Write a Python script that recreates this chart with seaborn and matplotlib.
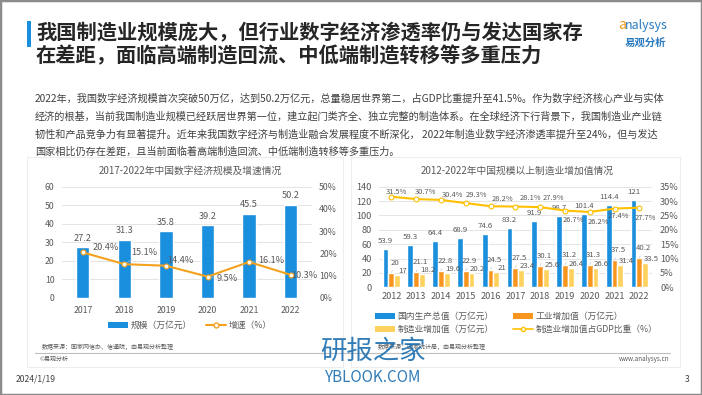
import numpy as np
import pandas as pd
import matplotlib
matplotlib.use('Agg')
import matplotlib.pyplot as plt
import seaborn as sns
from matplotlib.patches import Patch, Rectangle
from matplotlib.lines import Line2D
from matplotlib.ticker import FuncFormatter

sns.set_theme(style='white')
plt.rcParams['font.family'] = ['Noto Sans CJK SC', 'DejaVu Sans']

# ---------------- data ----------------
years_a = ['2017', '2018', '2019', '2020', '2021', '2022']
scale_a = [27.2, 31.3, 35.8, 39.2, 45.5, 50.2]
growth_a = [20.4, 15.1, 14.4, 9.5, 16.1, 10.3]

years_b = ['2012', '2013', '2014', '2015', '2016', '2017', '2018', '2019', '2020', '2021', '2022']
gdp_b = [53.9, 59.3, 64.4, 68.9, 74.6, 83.2, 91.9, 98.7, 101.4, 114.4, 121]
ind_b = [20, 21.1, 22.8, 22.9, 24.5, 27.5, 30.1, 31.2, 31.3, 37.5, 40.2]
mfg_b = [17, 18.2, 19.6, 20.2, 21, 23.4, 25.6, 26.4, 26.6, 31.4, 33.5]
ratio_b = [31.5, 30.7, 30.4, 29.3, 28.2, 28.1, 27.9, 26.7, 26.2, 27.4, 27.7]

series_b = ['国内生产总值（万亿元）', '工业增加值（万亿元）', '制造业增加值（万亿元）']
line_name_b = '制造业增加值占GDP比重（%）'
legend_a = ['规模（万亿元）', '增速（%）']

title_lines = ['我国制造业规模庞大，但行业数字经济渗透率仍与发达国家存',
               '在差距，面临高端制造回流、中低端制造转移等多重压力']
para_lines = [
    '2022年，我国数字经济规模首次突破50万亿，达到50.2万亿元，总量稳居世界第二，占GDP比重提升至41.5%。作为数字经济核心产业与实体',
    '经济的根基，当前我国制造业规模已经跃居世界第一位，建立起门类齐全、独立完整的制造体系。在全球经济下行背景下，我国制造业产业链',
    '韧性和产品竞争力有显著提升。近年来我国数字经济与制造业融合发展程度不断深化， 2022年制造业数字经济渗透率提升至24%，但与发达',
    '国家相比仍存在差距，且当前面临着高端制造回流、中低端制造转移等多重压力。',
]
chart_title_a = '2017-2022年中国数字经济规模及增速情况'
chart_title_b = '2012-2022年中国规模以上制造业增加值情况'
source_a = '数据来源：国家网信办、信通院，由易观分析整理'
source_b = '数据来源：国家统计局，由易观分析整理'

# ---------------- style ----------------
BLUE = '#1A8FDD'
ORANGE = '#F7951E'
YELLOW = '#FFD25E'
LINE_A = '#F4A11D'
LINE_B = '#FFC000'
TXT = '#595959'
W, H = 702, 395

def fx(x):
    return x / W

def fy(y):
    return 1 - y / H

PX = 0.72  # points per pixel

fig = plt.figure(figsize=(7.02, 3.95), dpi=100)
fig.patch.set_facecolor('white')

# cards
for (x0, x1) in [(27, 343), (351, 680)]:
    fig.add_artist(Rectangle((fx(x0), fy(367)), fx(x1) - fx(x0), fy(157) - fy(367),
                             transform=fig.transFigure, facecolor='white',
                             edgecolor='#EDEDED', lw=0.8, zorder=-1))
# outer border
fig.add_artist(Rectangle((0, 0), 1, 1, transform=fig.transFigure, facecolor='none',
                         edgecolor='#8C8C8C', lw=2.5, zorder=20))

# title
fig.add_artist(Rectangle((fx(27), fy(47)), fx(3.5), fy(21) - fy(47),
                         transform=fig.transFigure, facecolor='#1A8FDD', edgecolor='none'))
for i, t in enumerate(title_lines):
    fig.text(fx(36), fy(33 + 23 * i), t, fontsize=14.6, fontweight='bold',
             color='#262626', va='center', ha='left')
# logo
fig.text(fx(618), fy(25), 'a', fontsize=10, color='#F39A1E', style='italic',
         ha='left', va='center')
fig.text(fx(625), fy(25), 'nalysys', fontsize=9, color='#2A7AC0', style='italic',
         ha='left', va='center')
fig.text(fx(645), fy(43), '易观分析', fontsize=7.5, color='#2A7AC0', fontweight='bold',
         ha='center', va='center')

# paragraph
for i, t in enumerate(para_lines):
    fig.text(fx(35), fy(99 + 17.6 * i), t, fontsize=7.32, color='#404040',
             va='center', ha='left')

# ---------------- left chart ----------------
axA = fig.add_axes([fx(62), fy(297.7), fx(311.5) - fx(62), fy(186.7) - fy(297.7)])
axA.patch.set_visible(False)
sns.barplot(x=years_a, y=scale_a, color=BLUE, width=0.32, saturation=1, ax=axA, zorder=2)
axA.set_ylim(0, 60)
axA.set_yticks(range(0, 61, 10))
axA.set_xlim(-0.5, 5.5)
axA.yaxis.grid(True, color='#E4E4E4', lw=0.7, zorder=0)
axA.set_axisbelow(True)
for s in axA.spines.values():
    s.set_visible(False)
axA.tick_params(axis='both', length=0, labelsize=6.3, colors=TXT)
axA.tick_params(axis='y', pad=5.5)
axA.tick_params(axis='x', pad=6)
axA.set_xlabel('')
axA.set_ylabel('')
for i, v in enumerate(scale_a):
    axA.annotate(f'{v:g}', (i, v), xytext=(0, 9 * PX), textcoords='offset points',
                 ha='center', va='center', fontsize=6.6, color=TXT)

axA2 = axA.twinx()
sns.lineplot(x=np.arange(len(growth_a)), y=np.array(growth_a) / 100, ax=axA2, color=LINE_A,
             lw=1.5, marker='o', markersize=3.5, markerfacecolor='white',
             markeredgecolor=LINE_A, markeredgewidth=0.8)
axA2.set_ylim(0, 0.5)
axA2.set_yticks(np.arange(0, 0.51, 0.1))
axA2.yaxis.set_major_formatter(FuncFormatter(lambda v, p: f'{v * 100:.0f}%'))
axA2.set_xlim(-0.5, 5.5)
for s in axA2.spines.values():
    s.set_visible(False)
axA2.tick_params(axis='y', length=0, labelsize=6.3, colors=TXT, pad=5.5)
axA2.set_ylabel('')
offs_a = [(10, 5, False), (7, 12, True), (1, 5, False), (9, -2, True), (9, 1, True), (1, -1, False)]
for i, g in enumerate(growth_a):
    dx, dy, lead = offs_a[i]
    axA2.annotate(f'{g}%', (i, g / 100), xytext=(dx * PX, dy * PX), textcoords='offset points',
                  ha='left', va='center', fontsize=6.6, color=TXT,
                  arrowprops=dict(arrowstyle='-', color='#BFBFBF', lw=0.5, shrinkA=0, shrinkB=2) if lead else None)

fig.text(fx(190), fy(171), chart_title_a, fontsize=7, color=TXT, ha='center', va='center')
handles_a = [Patch(facecolor=BLUE, edgecolor='none'),
             Line2D([], [], color=LINE_A, lw=1.5, marker='o', markersize=3.5,
                    markerfacecolor='white', markeredgecolor=LINE_A)]
fig.legend(handles_a, legend_a, loc='center', bbox_to_anchor=(fx(190), fy(325.5)), ncol=2,
           frameon=False, fontsize=6.3, labelcolor=TXT, handlelength=2.3, handleheight=0.6,
           columnspacing=1.6, handletextpad=0.3)

# ---------------- right chart ----------------
axB = fig.add_axes([fx(378.9), fy(287.3), fx(651.7) - fx(378.9), fy(186.7) - fy(287.3)])
axB.patch.set_visible(False)
df_b = pd.DataFrame({
    'year': years_b * 3,
    'value': gdp_b + ind_b + mfg_b,
    'series': [series_b[0]] * len(years_b) + [series_b[1]] * len(years_b) + [series_b[2]] * len(years_b),
})
sns.barplot(data=df_b, x='year', y='value', hue='series', hue_order=series_b,
            palette=[BLUE, ORANGE, YELLOW], width=0.7, gap=0, saturation=1,
            legend=False, ax=axB, zorder=2)
axB.set_ylim(0, 140)
axB.set_yticks(range(0, 141, 20))
axB.set_xlim(-0.5, 10.5)
axB.yaxis.grid(True, color='#E4E4E4', lw=0.7, zorder=0)
axB.set_axisbelow(True)
for s in axB.spines.values():
    s.set_visible(False)
axB.tick_params(axis='both', length=0, labelsize=6.6, colors=TXT)
axB.tick_params(axis='y', pad=5)
axB.tick_params(axis='x', pad=3.5)
axB.set_xlabel('')
axB.set_ylabel('')
bw = 0.7 / 3
for i in range(len(years_b)):
    axB.annotate(f'{gdp_b[i]:g}', (i - bw, gdp_b[i]), xytext=(0, 8 * PX), textcoords='offset points',
                 ha='center', va='center', fontsize=5.6, color=TXT)
    axB.annotate(f'{ind_b[i]:g}', (i, ind_b[i]), xytext=(4 * PX, 10 * PX), textcoords='offset points',
                 ha='center', va='center', fontsize=5.6, color=TXT,
                 arrowprops=dict(arrowstyle='-', color='#BFBFBF', lw=0.4, shrinkA=3, shrinkB=0))
    axB.annotate(f'{mfg_b[i]:g}', (i + bw, mfg_b[i]), xytext=(6 * PX, 4 * PX), textcoords='offset points',
                 ha='center', va='center', fontsize=5.6, color=TXT)

axB2 = axB.twinx()
sns.lineplot(x=np.arange(len(ratio_b)), y=np.array(ratio_b) / 100, ax=axB2, color=LINE_B,
             lw=1.5, marker='o', markersize=3.5, markerfacecolor='white',
             markeredgecolor=LINE_B, markeredgewidth=0.8)
axB2.set_ylim(0, 0.35)
axB2.set_yticks(np.arange(0, 0.351, 0.05))
axB2.yaxis.set_major_formatter(FuncFormatter(lambda v, p: f'{v * 100:.0f}%'))
axB2.set_xlim(-0.5, 10.5)
for s in axB2.spines.values():
    s.set_visible(False)
axB2.tick_params(axis='y', length=0, labelsize=6.6, colors=TXT, pad=6)
axB2.set_ylabel('')
offs_b = [(5, 5), (9, 7), (12, 5), (11, 8), (12, 7), (15, 9), (13, 9.5), (8, -9), (9, -10), (4, -7), (6, -10)]
for i, r in enumerate(ratio_b):
    dx, dy = offs_b[i]
    axB2.annotate(f'{r}%', (i, r / 100), xytext=(dx * PX, dy * PX), textcoords='offset points',
                  ha='center', va='center', fontsize=5.4, color=TXT,
                  arrowprops=dict(arrowstyle='-', color='#BFBFBF', lw=0.4, shrinkA=5, shrinkB=2))

fig.text(fx(517), fy(171), chart_title_b, fontsize=7, color=TXT, ha='center', va='center')
handles_b = [Patch(facecolor=BLUE, edgecolor='none'), Patch(facecolor=YELLOW, edgecolor='none'),
             Patch(facecolor=ORANGE, edgecolor='none'),
             Line2D([], [], color=LINE_B, lw=1.2, marker='o', markersize=3,
                    markerfacecolor='white', markeredgecolor=LINE_B)]
labels_b = [series_b[0], series_b[2], series_b[1], line_name_b]
fig.legend(handles_b, labels_b, loc='center', bbox_to_anchor=(fx(516), fy(323)), ncol=2,
           frameon=False, fontsize=6.3, labelcolor=TXT, handlelength=2.3, handleheight=0.6,
           columnspacing=2.2, handletextpad=0.3, labelspacing=0.45)

# ---------------- footer ----------------
fig.text(fx(41.5), fy(347), source_a, fontsize=4.3, color=TXT, ha='left', va='center')
fig.text(fx(378), fy(347), source_b, fontsize=4.3, color=TXT, ha='left', va='center')
fig.add_artist(Line2D([fx(35), fx(670)], [fy(352.5), fy(352.5)], transform=fig.transFigure,
                      color='#BFBFBF', lw=0.8))
fig.text(fx(40), fy(359), '©易观分析', fontsize=4.3, color=TXT, ha='left', va='center')
fig.text(fx(669), fy(359), 'www.analysys.cn', fontsize=4.5, color=TXT, ha='right', va='center')
fig.text(fx(16), fy(379), '2024/1/19', fontsize=6.2, color='#404040', ha='left', va='center')
fig.text(fx(690), fy(379), '3', fontsize=6.2, color='#404040', ha='right', va='center')

# watermark
fig.text(fx(373), fy(351), '研报之家', fontsize=19, color='#1C6FB0', ha='center', va='center', alpha=0.9)
fig.text(fx(373), fy(377), 'YBLOOK.COM', fontsize=11, color='#1C6FB0', ha='center', va='center', alpha=0.9)

fig.savefig('out.png', dpi=100)
